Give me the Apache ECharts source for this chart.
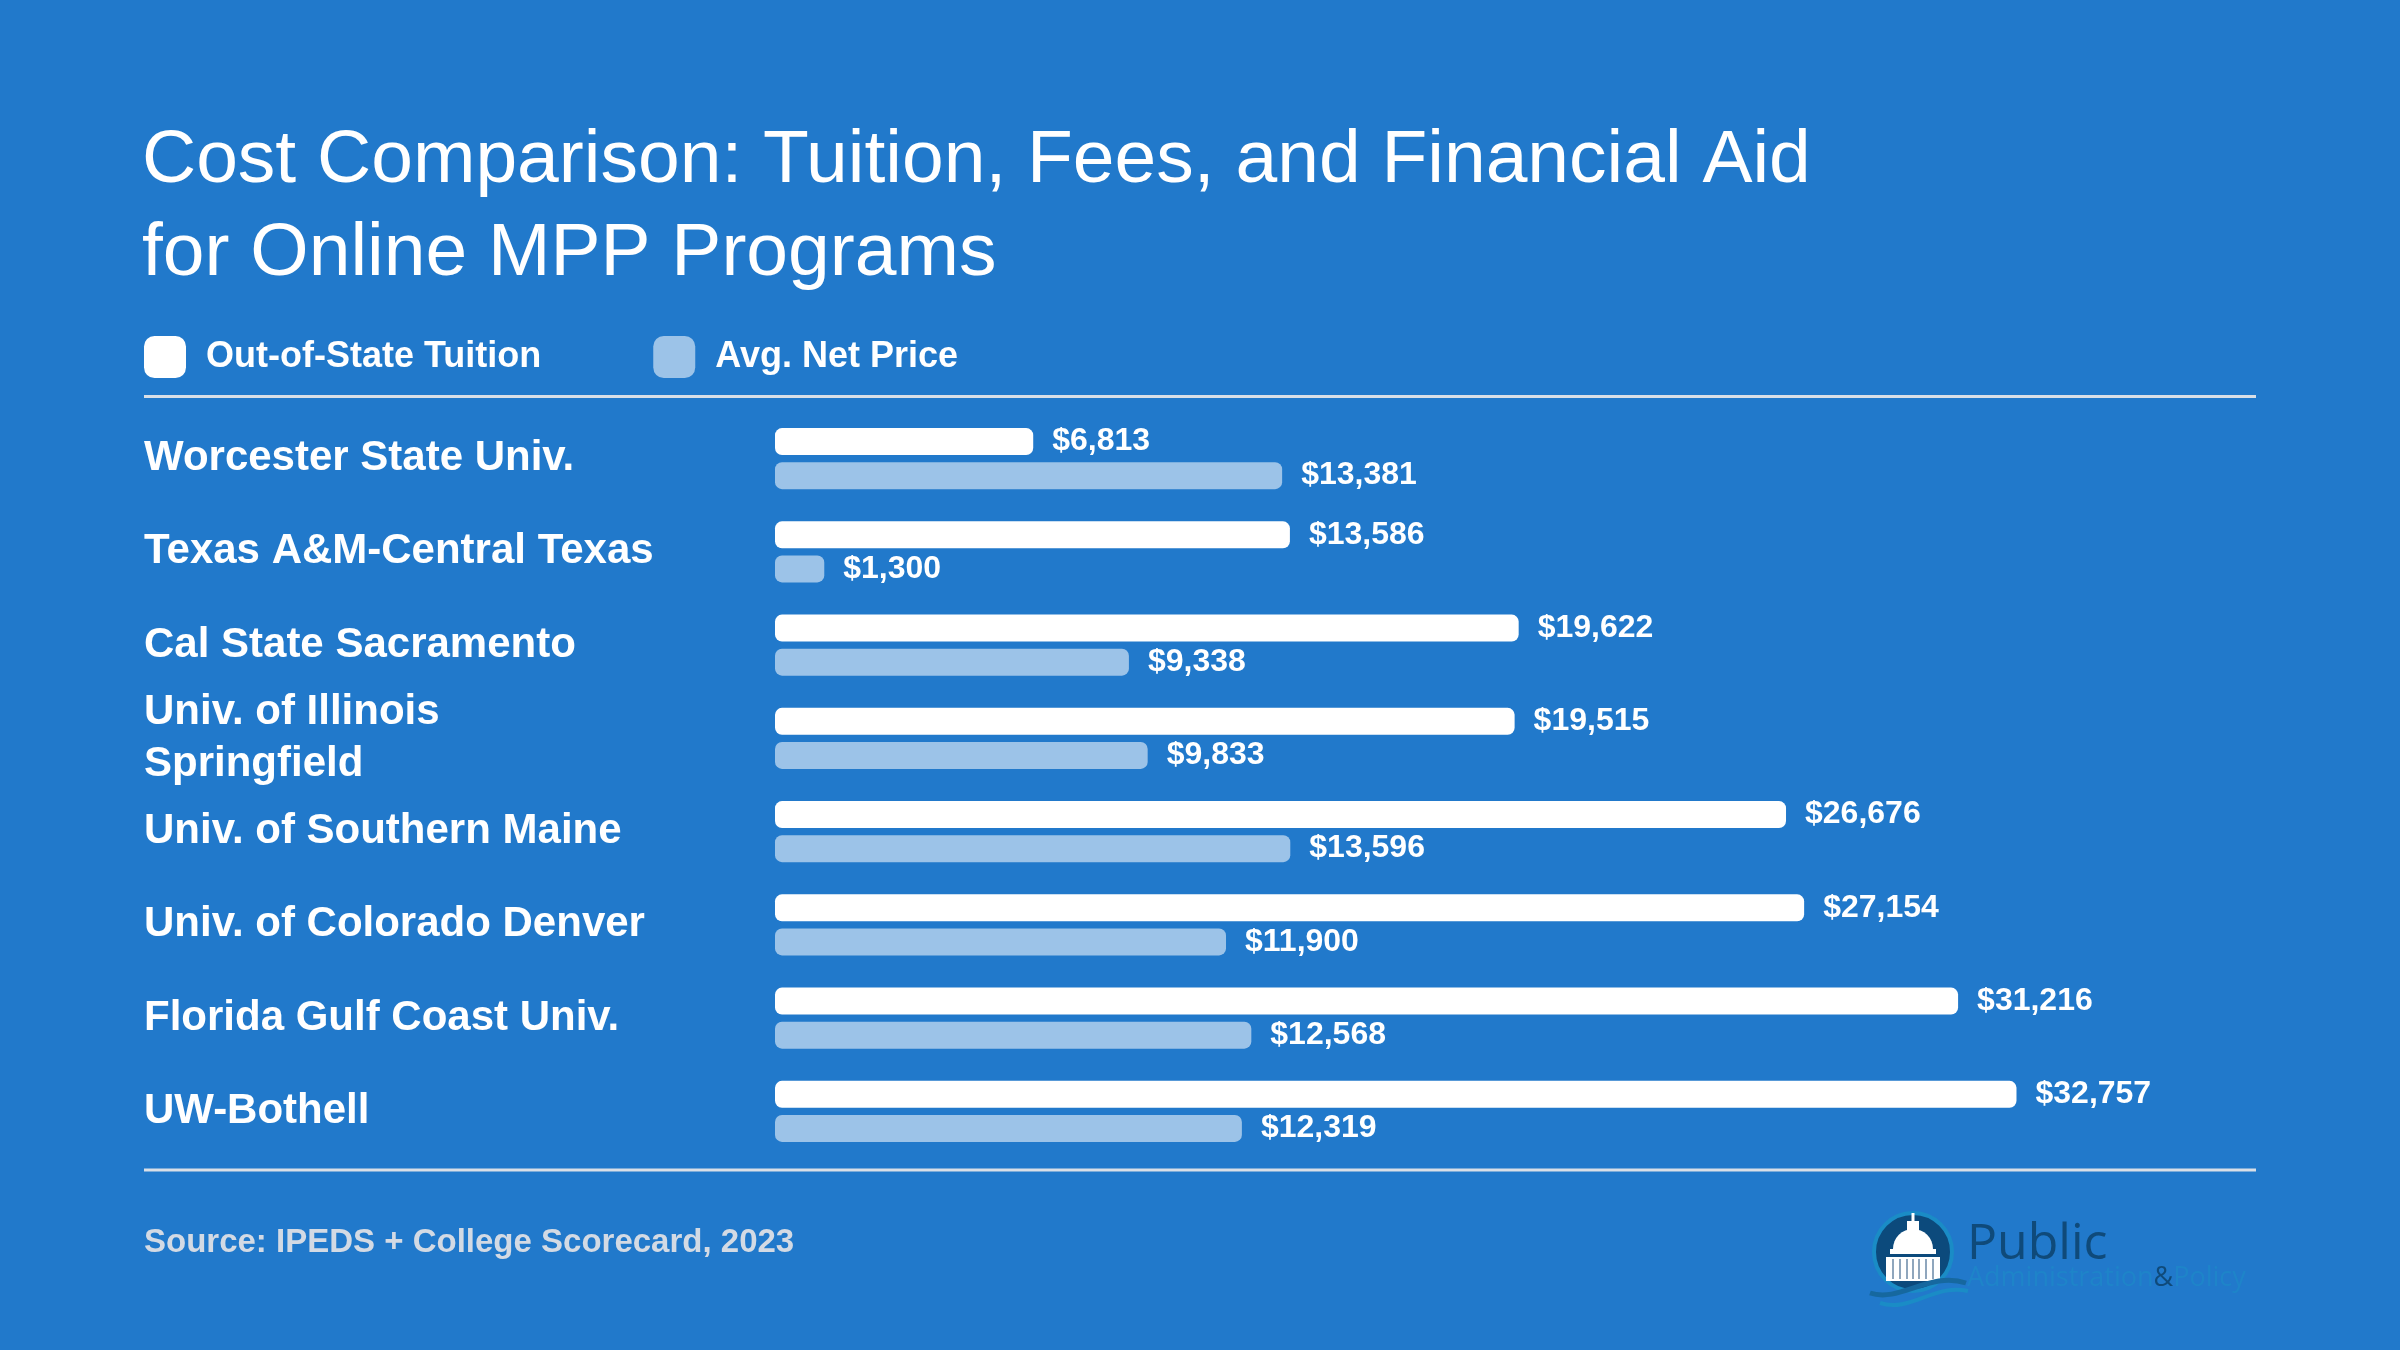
<!DOCTYPE html>
<html>
<head>
<meta charset="utf-8">
<title>Cost Comparison: Tuition, Fees, and Financial Aid</title>
<script src="https://cdn.jsdelivr.net/npm/echarts@6/dist/echarts.min.js"></script>
<style>
  html, body { margin: 0; padding: 0; background: #2179cb; }
  #main { width: 2400px; height: 1350px; }
</style>
</head>
<body>
<div id="main"></div>
<script>
// data
var categories = [
  'Worcester State Univ.',
  'Texas A&M-Central Texas',
  'Cal State Sacramento',
  'Univ. of Illinois\nSpringfield',
  'Univ. of Southern Maine',
  'Univ. of Colorado Denver',
  'Florida Gulf Coast Univ.',
  'UW-Bothell'
];
var tuition = [6813, 13586, 19622, 19515, 26676, 27154, 31216, 32757];
var netPrice = [13381, 1300, 9338, 9833, 13596, 11900, 12568, 12319];
var seriesNames = ['Out-of-State Tuition', 'Avg. Net Price'];

var FONT = '"Liberation Sans", Arial, Helvetica, sans-serif';
var BG = '#2179cb';
var LIGHT = '#9cc3e8';

function money(p) {
  return '$' + p.value.toLocaleString('en-US');
}

var myChart = echarts.init(document.getElementById('main'));

var labelStyle = {
  show: true,
  position: 'right',
  distance: 19,
  formatter: money,
  color: '#ffffff',
  fontSize: 32,
  fontWeight: 'bold',
  fontFamily: FONT
};

var option = {
  backgroundColor: BG,
  animation: false,
  title: {
    text: 'Cost Comparison: Tuition, Fees, and Financial Aid\nfor Online MPP Programs',
    left: 142,
    top: 115,
    padding: 0,
    textStyle: {
      color: '#ffffff',
      fontSize: 75,
      fontWeight: 'normal',
      lineHeight: 93,
      fontFamily: FONT
    }
  },
  legend: {
    data: seriesNames,
    left: 144,
    top: 336,
    padding: 0,
    itemWidth: 42,
    itemHeight: 42,
    itemGap: 112,
    icon: 'roundRect',
    textStyle: {
      color: '#ffffff',
      fontSize: 36,
      fontWeight: 'bold',
      fontFamily: FONT,
      padding: [0, 0, 0, 15]
    }
  },
  grid: {
    left: 775,
    width: 1516,
    top: 412,
    height: 746,
    containLabel: false
  },
  xAxis: {
    type: 'value',
    min: 0,
    max: 40000,
    show: false
  },
  yAxis: {
    type: 'category',
    data: categories,
    inverse: true,
    axisLine: { show: false },
    axisTick: { show: false },
    splitLine: { show: false },
    axisLabel: {
      align: 'left',
      margin: 631,
      color: '#ffffff',
      fontSize: 42,
      fontWeight: 'bold',
      lineHeight: 52,
      padding: [4, 0, 0, 0],
      fontFamily: FONT
    }
  },
  series: [
    {
      name: seriesNames[0],
      type: 'bar',
      data: tuition,
      barWidth: 27,
      barGap: '26%',
      itemStyle: { color: '#ffffff', borderRadius: 7 },
      label: labelStyle
    },
    {
      name: seriesNames[1],
      type: 'bar',
      data: netPrice,
      barWidth: 27,
      barGap: '26%',
      itemStyle: { color: LIGHT, borderRadius: 7 },
      label: labelStyle
    }
  ],
  graphic: [
    // rules above and below the bars
    { type: 'line', shape: { x1: 144, y1: 396.5, x2: 2256, y2: 396.5 }, style: { stroke: '#d9dfe7', lineWidth: 3 } },
    { type: 'line', shape: { x1: 144, y1: 1170, x2: 2256, y2: 1170 }, style: { stroke: '#d9dfe7', lineWidth: 3 } },
    {
      type: 'text', left: 144, top: 1226,
      style: { text: 'Source: IPEDS + College Scorecard, 2023', fill: '#d3dae4', fontSize: 33, fontWeight: 'bold', fontFamily: FONT }
    },
    // logo
    {
      type: 'group',
      children: [
        { type: 'circle', shape: { cx: 1913, cy: 1252, r: 39 }, style: { fill: '#0c4a7c', stroke: '#1a8cc6', lineWidth: 4 } },
        { type: 'rect', shape: { x: 1911.5, y: 1213, width: 3, height: 10 }, style: { fill: '#ffffff' } },
        { type: 'rect', shape: { x: 1907, y: 1221, width: 12, height: 12 }, style: { fill: '#ffffff' } },
        { type: 'sector', shape: { cx: 1913, cy: 1249, r0: 0, r: 20, startAngle: Math.PI, endAngle: 2 * Math.PI }, style: { fill: '#ffffff' } },
        { type: 'rect', shape: { x: 1890, y: 1249, width: 46, height: 5 }, style: { fill: '#ffffff' } },
        { type: 'rect', shape: { x: 1886, y: 1257, width: 54, height: 24 }, style: { fill: '#ffffff' } },
        { type: 'line', shape: { x1: 1893, y1: 1259, x2: 1893, y2: 1279 }, style: { stroke: '#8fa6bd', lineWidth: 2 } },
        { type: 'line', shape: { x1: 1900, y1: 1259, x2: 1900, y2: 1279 }, style: { stroke: '#8fa6bd', lineWidth: 2 } },
        { type: 'line', shape: { x1: 1907, y1: 1259, x2: 1907, y2: 1279 }, style: { stroke: '#8fa6bd', lineWidth: 2 } },
        { type: 'line', shape: { x1: 1913, y1: 1259, x2: 1913, y2: 1279 }, style: { stroke: '#8fa6bd', lineWidth: 2 } },
        { type: 'line', shape: { x1: 1919, y1: 1259, x2: 1919, y2: 1279 }, style: { stroke: '#8fa6bd', lineWidth: 2 } },
        { type: 'line', shape: { x1: 1926, y1: 1259, x2: 1926, y2: 1279 }, style: { stroke: '#8fa6bd', lineWidth: 2 } },
        { type: 'line', shape: { x1: 1933, y1: 1259, x2: 1933, y2: 1279 }, style: { stroke: '#8fa6bd', lineWidth: 2 } },
        { type: 'bezierCurve', shape: { x1: 1870, y1: 1293, x2: 1966, y2: 1283, cpx1: 1900, cpy1: 1303, cpx2: 1930, cpy2: 1271 }, style: { stroke: '#16689f', lineWidth: 5, fill: null } },
        { type: 'bezierCurve', shape: { x1: 1880, y1: 1303, x2: 1968, y2: 1291, cpx1: 1910, cpy1: 1313, cpx2: 1935, cpy2: 1283 }, style: { stroke: '#1a8cc6', lineWidth: 4, fill: null } },
        {
          type: 'text', left: 1967, top: 1220,
          style: { text: 'Public', fill: '#0f4a7a', fontSize: 50, fontFamily: '"Open Sans", sans-serif' }
        },
        {
          type: 'text', left: 1967, top: 1265,
          style: {
            text: '{a|Administration}{b|&}{a|Policy}',
            fontFamily: '"Open Sans", sans-serif',
            rich: {
              a: { fill: '#1e84c9', fontSize: 27, fontFamily: '"Open Sans", sans-serif' },
              b: { fill: '#0f4a7a', fontSize: 27, fontFamily: '"Open Sans", sans-serif' }
            }
          }
        }
      ]
    }
  ]
};

myChart.setOption(option);
</script>
</body>
</html>
